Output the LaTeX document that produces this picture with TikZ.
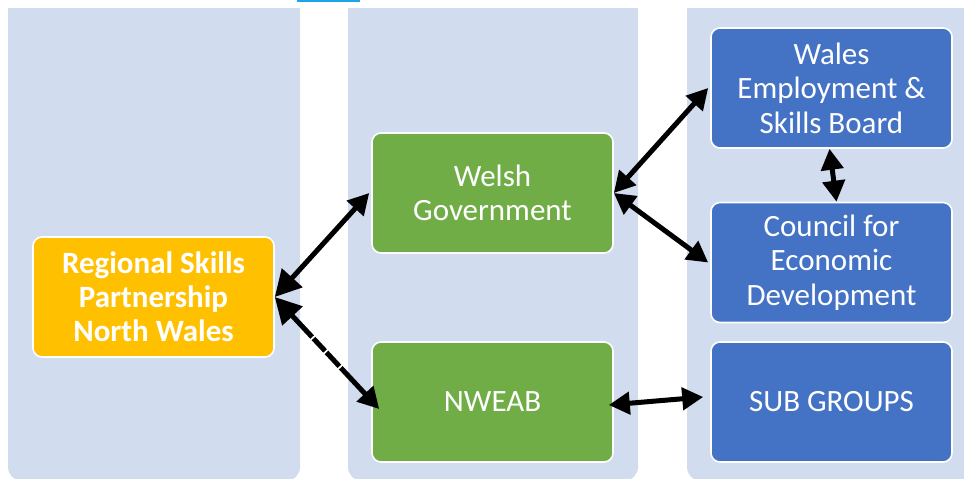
\documentclass[tikz,border=0pt]{standalone}
\usepackage{fontspec}
\setmainfont{Carlito}
\usetikzlibrary{arrows.meta}
\definecolor{colbg}{HTML}{D1DCEE}
\definecolor{rspy}{HTML}{FFC000}
\definecolor{wgreen}{HTML}{70AD47}
\definecolor{oblue}{HTML}{4472C4}
\definecolor{tick}{HTML}{1EA5E8}
\begin{document}
\begin{tikzpicture}[x=1pt,y=-1pt,
  colpanel/.style={fill=colbg, draw=none, rounded corners=14pt},
  box/.style={draw=white, line width=1.6pt, rounded corners=9pt, text=white,
    minimum width=241pt, minimum height=120pt, align=center, inner sep=0pt,
    font=\fontsize{31}{34.5}\selectfont},
  conn/.style={line width=5pt, draw=black,
    {Triangle[length=21pt,width=22pt]}-{Triangle[length=21pt,width=22pt]}},
  bigconn/.style={line width=5pt, draw=black,
    {Triangle[length=26pt,width=27pt]}-{Triangle[length=21pt,width=22pt]}}
]
\useasboundingbox (0,0) rectangle (964,479);
\begin{scope}
\clip (0,0) rectangle (964,479);
\fill[colpanel] (8,-30) rectangle (300,481);
\fill[colpanel] (348,-30) rectangle (638,481);
\fill[colpanel] (687,-30) rectangle (1000,481);
\fill[white] (0,0) rectangle (964,8);
\end{scope}
\fill[tick] (297,0) rectangle (360,2);

\node[box, fill=rspy, font=\fontsize{31}{34}\selectfont\bfseries] (rsp) at (153.5,297) {Regional Skills\\Partnership\\North Wales};
\node[box, fill=wgreen] (wg) at (492.5,193) {Welsh\\Government};
\node[box, fill=wgreen] (nweab) at (492.5,402) {NWEAB};
\node[box, fill=oblue] (web) at (831.5,88) {Wales\\Employment \&\\Skills Board};
\node[box, fill=oblue] (ced) at (831.5,262.5) {Council for\\Economic\\Development};
\node[box, fill=oblue] (sub) at (831.5,402) {SUB GROUPS};

\draw[bigconn] (rsp.east) -- ([shift={(-2,0)}]wg.west);
\draw[bigconn, dash pattern=on 30pt off 2pt on 17pt off 2pt on 19pt off 2pt on 300pt]
  (rsp.east) -- ([shift={(8,7)}]nweab.west);
\draw[conn] (wg.east) -- ([shift={(-2,0)}]web.west);
\draw[conn] (wg.east) -- ([shift={(-2,0)}]ced.west);
\draw[conn] ([xshift=-2pt]web.south) -- ([xshift=5pt]ced.north);
\draw[conn] ([shift={(-5,3)}]nweab.east) -- ([shift={(-7,-5)}]sub.west);
\end{tikzpicture}
\end{document}
